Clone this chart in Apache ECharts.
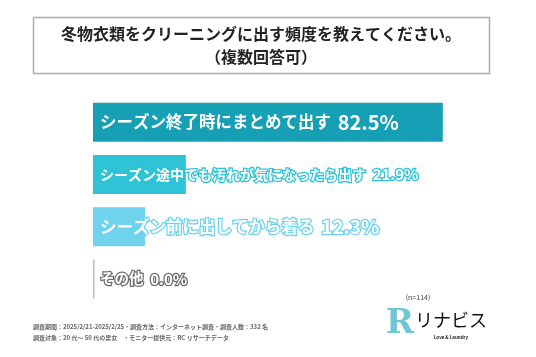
<!DOCTYPE html>
<html>
<head>
<meta charset="utf-8">
<script src="https://cdn.jsdelivr.net/npm/echarts@6/dist/echarts.min.js"></script>
<style>
html,body{margin:0;padding:0;background:#fff;}
#c{width:536px;height:357px;}
</style>
</head>
<body>
<div id="c"></div>
<script>
const categories = ['シーズン終了時にまとめて出す', 'シーズン途中でも汚れが気になったら出す', 'シーズン前に出してから着る', 'その他'];
const values = [82.5, 21.9, 12.3, 0.0];
const barColors = ['#17a0b5', '#2ec3d6', '#6fd3ee', '#bdbdbd'];
const labelBorderColors = ['#17a0b5', '#2ec3d6', '#6fd3ee', '#6e6e6e'];
const nameSizes = [16.5, 14, 16.5, 14.5];
const numSizes = [20, 15, 19, 15];
const titleLines = ['冬物衣類をクリーニングに出す頻度を教えてください。', '（複数回答可）'];
const noteLines = ['調査期間：2025/2/21-2025/2/25・調査方法：インターネット調査・調査人数：332 名', '調査対象：20 代～ 50 代の男女　・モニター提供元：RC リサーチデータ'];
const sampleText = '(n=114)';

const FONT = '"Noto Sans CJK JP", "Noto Sans", sans-serif';
const chart = echarts.init(document.getElementById('c'), null, {renderer: 'canvas'});

const data = values.map((v, i) => ({
  value: v,
  itemStyle: {color: barColors[i]},
  label: {
    show: true,
    position: 'insideLeft',
    distance: 7,
    formatter: '{n|' + categories[i] + '}  {v|' + v.toFixed(1) + '%}',
    rich: {
      n: {fontSize: nameSizes[i], fontWeight: 'bold', color: '#fff', fontFamily: FONT,
          textBorderColor: labelBorderColors[i], textBorderWidth: 2.5},
      v: {fontSize: numSizes[i], fontWeight: 'bold', color: '#fff', fontFamily: FONT,
          textBorderColor: labelBorderColors[i], textBorderWidth: 2.5}
    }
  }
}));

chart.setOption({
  animation: false,
  grid: {left: 93, right: 19, top: 96, bottom: 52, containLabel: false},
  xAxis: {type: 'value', min: 0, max: 100, show: false},
  yAxis: {type: 'category', data: categories, inverse: true, show: false},
  series: [{
    type: 'bar',
    data: data,
    barWidth: 39,
    barMinHeight: 1.5,
    silent: true
  }],
  graphic: [
    {type: 'rect', shape: {x: 33.5, y: 17.5, width: 456, height: 56},
     style: {fill: '#fff', stroke: '#a9adb2', lineWidth: 1.5}},
    {type: 'text', x: 261, y: 34, style: {text: titleLines[0], font: 'bold 16px ' + FONT,
      fill: '#222', align: 'center', verticalAlign: 'middle'}},
    {type: 'text', x: 261, y: 57, style: {text: titleLines[1], font: 'bold 16px ' + FONT,
      fill: '#222', align: 'center', verticalAlign: 'middle'}},
    {type: 'text', x: 33, y: 327, style: {text: noteLines[0], font: 'bold 6px ' + FONT,
      fill: '#666', verticalAlign: 'middle'}},
    {type: 'text', x: 33, y: 338, style: {text: noteLines[1], font: 'bold 6px ' + FONT,
      fill: '#666', verticalAlign: 'middle'}},
    {type: 'text', x: 418, y: 297, style: {text: sampleText, font: '7px ' + FONT,
      fill: '#444', align: 'center', verticalAlign: 'middle'}},
    {type: 'text', x: 400, y: 324, style: {text: 'R', font: 'bold 34px "DejaVu Serif", serif',
      fill: '#4db8cc', align: 'center', verticalAlign: 'middle', opacity: 0.8}},
    {type: 'text', x: 451, y: 320, style: {text: 'リナビス', font: '18px ' + FONT,
      fill: '#111', align: 'center', verticalAlign: 'middle'}},
    {type: 'text', x: 451, y: 337, style: {text: 'Love & Laundry', font: 'bold 4.5px ' + FONT,
      fill: '#222', align: 'center', verticalAlign: 'middle'}}
  ]
});
</script>
</body>
</html>
